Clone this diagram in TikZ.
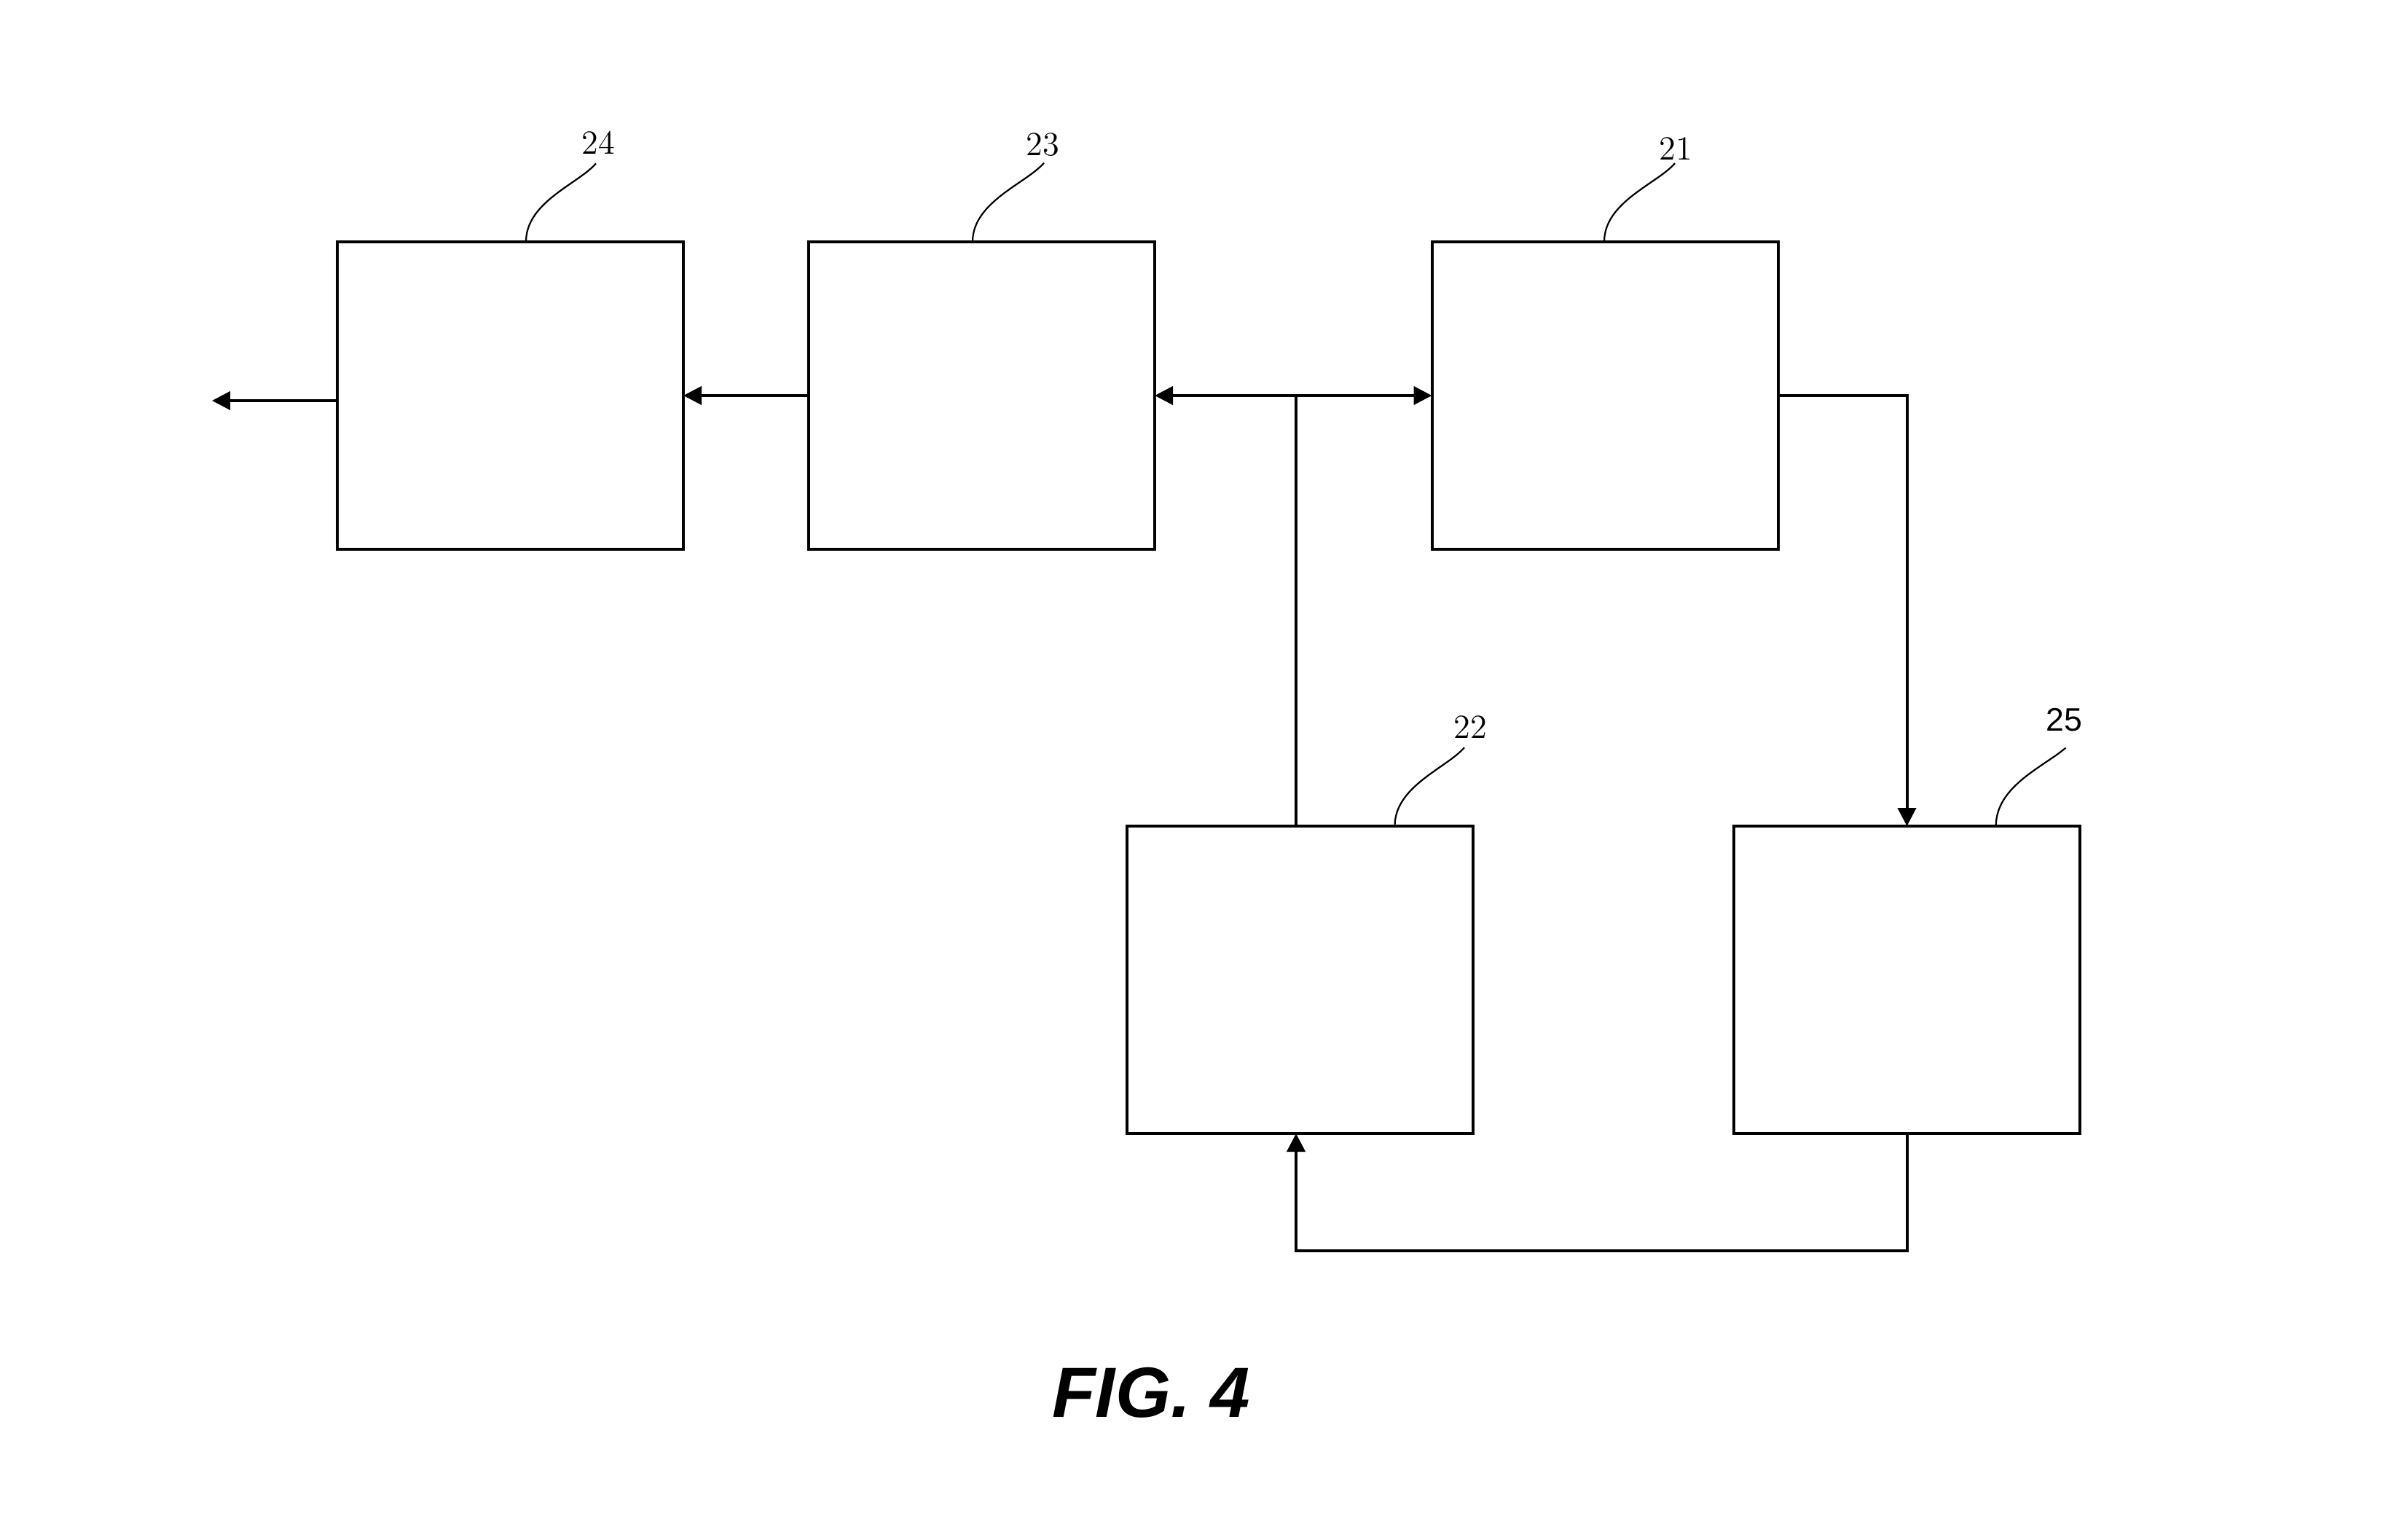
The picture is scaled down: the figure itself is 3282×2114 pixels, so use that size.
\documentclass[tikz,border=0pt]{standalone}
\usepackage{fontspec}
\newfontfamily\capfont{Liberation Sans}
\newfontfamily\sanslbl{Liberation Sans}
\usetikzlibrary{arrows.meta}
\begin{document}
\begin{tikzpicture}[x=0.1mm,y=-0.1mm,
  blk/.style={draw, line width=0.4mm, minimum width=47.5mm, minimum height=42.2mm, inner sep=0pt, outer sep=0pt},
  wire/.style={line width=0.4mm},
  arr/.style={wire, -{Triangle[length=2.5mm,width=2.5mm]}},
  leader/.style={line width=0.22mm},
  lbl/.style={font=\fontsize{13.2pt}{15pt}\selectfont, inner sep=0pt},
  lblsans/.style={font=\sanslbl\fontsize{12.7pt}{15pt}\selectfont, inner sep=0pt}]
\useasboundingbox (0,0) rectangle (3282,2114);
\fill[white] (0,0) rectangle (3282,2114);
% blocks
\node[blk] (b24) at (700.5,543) {};
\node[blk] (b23) at (1347.5,543) {};
\node[blk] (b21) at (2203,543) {};
\node[blk] (b22) at (1784,1345) {};
\node[blk] (b25) at (2617.5,1345) {};
% connectors
\coordinate (out) at (291,550);
\draw[arr] (b24.west |- out) -- (out);
\draw[arr] (b23.west) -- (b24.east);
\coordinate (j) at (1779,543);
\draw[arr] (j) -- (b23.east);
\draw[arr] (j) -- (b21.west);
\draw[wire] (j) -- (j |- b22.north);
\draw[arr] (b21.east) -| (b25.north);
\coordinate (ret) at (1779,1717);
\draw[arr] (b25.south) -- (b25.south |- ret) -- (ret) -- (j |- b22.south);
% labels
\node[lbl] (l24) at (821,196) {24};
\node[lbl] (l23) at (1431,199) {23};
\node[lbl] (l21) at (2300,204) {21};
\node[lbl] (l22) at (2018,998) {22};
\node[lblsans] (l25) at (2833.5,988) {25};
% leaders
\draw[leader] ([shift={(-3,12)}]l24.south) .. controls +(-24,28) and +(0,-55) .. (722,0 |- b24.north);
\draw[leader] ([shift={(2,8)}]l23.south) .. controls +(-24,28) and +(0,-55) .. (1335,0 |- b23.north);
\draw[leader] ([shift={(-1,4)}]l21.south) .. controls +(-24,28) and +(0,-55) .. (2202,0 |- b21.north);
\draw[leader] ([shift={(-8,12)}]l22.south) .. controls +(-24,28) and +(0,-55) .. (1914.5,0 |- b22.north);
\draw[leader] ([shift={(2,22)}]l25.south) .. controls +(-30,26) and +(0,-55) .. (2739.7,0 |- b25.north);
% caption
\node[font=\capfont\bfseries\itshape\fontsize{27.8pt}{33pt}\selectfont, anchor=base, inner sep=0pt] (cap) at (1580,1945) {FIG. 4};
\end{tikzpicture}
\end{document}
